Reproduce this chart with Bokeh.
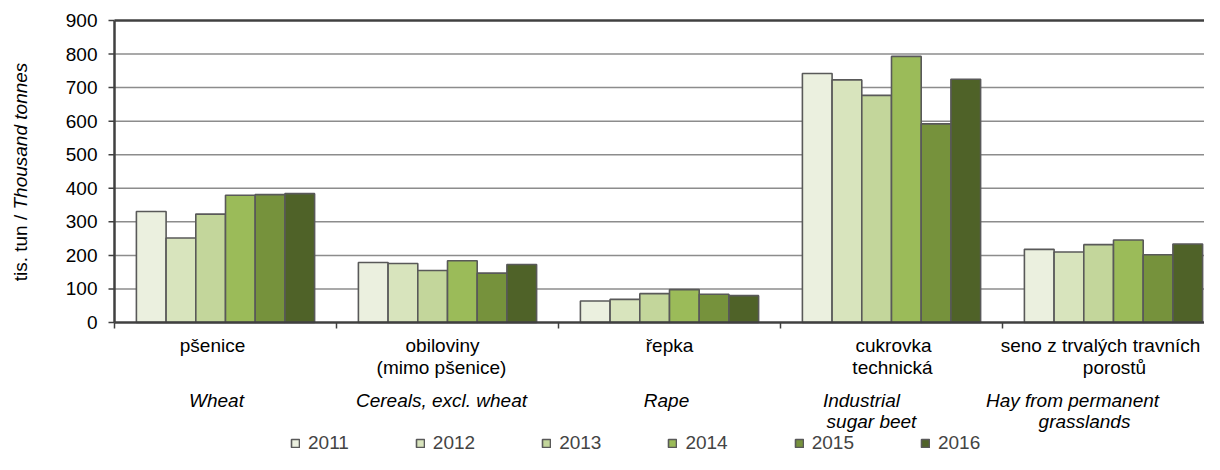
import math
import numpy as np
from bokeh.plotting import figure
from bokeh.models import Range1d, Label, Legend, LegendItem, ColumnDataSource
from bokeh.core.properties import value
from bokeh.transform import dodge
from bokeh.embed import file_html
from bokeh.resources import INLINE

# ---------------- data ----------------
categories_cz = ["pšenice", "obiloviny\n(mimo pšenice)", "řepka", "cukrovka\ntechnická",
                 "seno z trvalých travních\nporostů"]
categories_en = ["Wheat", "Cereals, excl. wheat", "Rape", "Industrial\nsugar beet",
                 "Hay from permanent\ngrasslands"]
years = ["2011", "2012", "2013", "2014", "2015", "2016"]
v2011 = [331, 179, 64, 742, 218]
v2012 = [252, 176, 69, 723, 210]
v2013 = [323, 155, 86, 677, 232]
v2014 = [379, 184, 98, 793, 246]
v2015 = [381, 147, 84, 592, 202]
v2016 = [384, 173, 80, 725, 234]
y_ticks = [0, 100, 200, 300, 400, 500, 600, 700, 800, 900]
y_title_plain = "tis. tun / "
y_title_italic = "Thousand tonnes"

series = [v2011, v2012, v2013, v2014, v2015, v2016]
colors = ["#EBF0DF", "#D8E4BD", "#C3D69B", "#9BBB59", "#76923C", "#4F6228"]

# ---------------- layout (pixels of the picture) ----------------
W, H = 1204, 454
FONT = "Liberation Sans"
FS = "19px"
GROUP_PX = 222.0          # width of one category group
AX_LEFT = 114             # y axis position
AX_TOP = 20               # 900 line
AX_BOTTOM = 322           # 0 line
Y_MAX = y_ticks[-1]


def px(x_pix):
    return (x_pix - AX_LEFT) / GROUP_PX


def py(y_pix):
    return (AX_BOTTOM - y_pix) * Y_MAX / (AX_BOTTOM - AX_TOP)


p = figure(width=W, height=H, output_backend="svg", toolbar_location=None,
           x_range=Range1d(px(0), px(W)), y_range=Range1d(py(H), py(0)),
           x_axis_location=None, y_axis_location=None, min_border=0)
p.outline_line_color = None
p.background_fill_color = "white"
p.border_fill_color = "white"
p.grid.visible = False

n_cat = len(categories_en)
x_end = px(W)
GRID = "#8c8c8c"
AXC = "#404040"

# horizontal gridlines (0 and 900 drawn as dark lines)
p.segment(x0=0, x1=x_end, y0=y_ticks[1:-1], y1=y_ticks[1:-1], line_color=GRID, line_width=1.5)
p.segment(x0=0, x1=x_end, y0=Y_MAX, y1=Y_MAX, line_color=AXC, line_width=2.5)

# bars
data = {"x": list(np.arange(n_cat) + 0.5)}
for yr, s in zip(years, series):
    data[yr] = s
src = ColumnDataSource(data)

bw = 29.7 / GROUP_PX
renderers = []
for i, (yr, c) in enumerate(zip(years, colors)):
    off = (i - (len(years) - 1) / 2) * bw
    r = p.vbar(x=dodge("x", off, range=p.x_range), top=yr, width=bw, source=src,
               fill_color=c, line_color="#595959", line_width=1.6)
    renderers.append(r)

# y axis: line, ticks, labels
p.segment(x0=0, x1=0, y0=0, y1=Y_MAX, line_color=AXC, line_width=2.5)
p.segment(x0=px(AX_LEFT - 6), x1=0, y0=y_ticks, y1=y_ticks, line_color=AXC, line_width=1.5)
p.text(x=px(AX_LEFT - 17), y=y_ticks, text=[str(t) for t in y_ticks], text_align="right",
       text_baseline="middle", text_font=value(FONT), text_font_size=FS, text_color="black")

# x axis: line and ticks at category boundaries
bounds = list(range(n_cat + 1))
p.segment(x0=0, x1=x_end, y0=0, y1=0, line_color=AXC, line_width=2.5)
p.segment(x0=bounds, x1=bounds, y0=0, y1=py(AX_BOTTOM + 6), line_color=AXC, line_width=1.5)

# category labels (line centres in picture pixels)
cz_x = [[212], [442, 441], [669], [893, 892], [1100, 1114]]
en_x = [[216], [441], [666], [861, 871], [1072, 1084]]
for lab, xs in zip(categories_cz, cz_x):
    for k, (line, xx) in enumerate(zip(lab.split("\n"), xs)):
        p.add_layout(Label(x=px(xx), y=py(345 + 22 * k), text=line, text_align="center",
                           text_baseline="middle", text_font=FONT, text_font_size=FS,
                           text_color="black"))
for lab, xs in zip(categories_en, en_x):
    for k, (line, xx) in enumerate(zip(lab.split("\n"), xs)):
        p.add_layout(Label(x=px(xx), y=py(400 + 21 * k), text=line, text_align="center",
                           text_baseline="middle", text_font=FONT, text_font_size=FS,
                           text_font_style="italic", text_color="black"))

# y-axis title (mixed styles)
P = 209
p.add_layout(Label(x=px(20), y=py(P), text=y_title_plain, angle=math.pi / 2,
                   text_align="right", text_baseline="middle", text_font=FONT,
                   text_font_size=FS, text_color="black"))
p.add_layout(Label(x=px(20), y=py(P), text=y_title_italic, angle=math.pi / 2,
                   text_align="left", text_baseline="middle", text_font=FONT,
                   text_font_size=FS, text_font_style="italic", text_color="black"))

legend = Legend(items=[LegendItem(label=yr, renderers=[r]) for yr, r in zip(years, renderers)],
                orientation="horizontal", location=(290, 0),
                glyph_width=10, glyph_height=10, label_standoff=8, spacing=66,
                label_text_font=FONT, label_text_font_size=FS, label_height=18,
                background_fill_alpha=0, border_line_color=None, padding=0, margin=0)
p.add_layout(legend)

open("out.html", "w").write(file_html(p, INLINE))
